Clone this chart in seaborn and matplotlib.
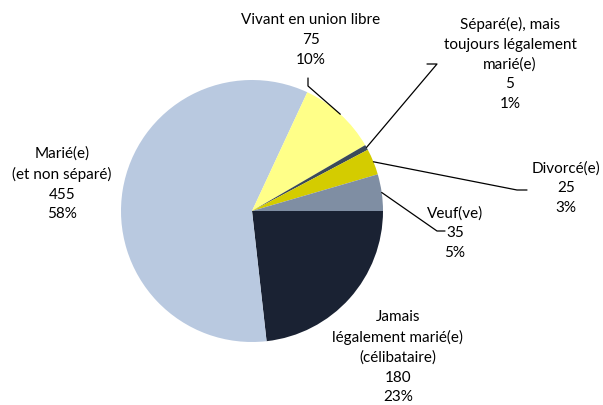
import numpy as np
import matplotlib
matplotlib.use("Agg")
import matplotlib.pyplot as plt
import seaborn as sns

categories = [
    "Jamais\nlégalement marié(e)\n(célibataire)",
    "Marié(e)\n(et non séparé)",
    "Vivant en union libre",
    "Séparé(e), mais\ntoujours légalement\nmarié(e)",
    "Divorcé(e)",
    "Veuf(ve)",
]
counts = [180, 455, 75, 5, 25, 35]
pct_labels = ["23%", "58%", "10%", "1%", "3%", "5%"]
colors = ["#1a2233", "#b9c9e0", "#ffff88", "#3b4a5a", "#d4cc00", "#7f8ea3"]

W, H = 603, 405
CX, CY, R = 252, 211, 131


def px(x, y):
    # picture pixels (y down) -> axes units (y up)
    return x, H - y


# label centre and leader elbow path (picture pixels); None = no leader
label_pos = [(398, 357), (62, 184), (311, 40), (510, 64), (566, 188), (455, 233)]
leaders = [
    None,
    None,
    [(308, 86), (308, 78)],
    [(437, 64), (427, 64)],
    [(517, 190), (527, 190)],
    [(437, 231), (445, 231)],
]

sns.set_style("white")
plt.rcParams["font.family"] = ["Lato", "DejaVu Sans"]

fig = plt.figure(figsize=(W / 100, H / 100), dpi=100)
ax = fig.add_axes([0, 0, 1, 1])

wedges, _ = ax.pie(
    counts,
    colors=colors,
    startangle=0,
    counterclock=False,
    radius=R,
    center=px(CX, CY),
    wedgeprops={"linewidth": 0},
    frame=True,
)
ax.set_xlim(0, W)
ax.set_ylim(0, H)
ax.axis("off")

for i, w in enumerate(wedges):
    text = f"{categories[i]}\n{counts[i]}\n{pct_labels[i]}"
    ax.text(*px(*label_pos[i]), text, ha="center", va="center",
            fontsize=11, color="#000000", linespacing=1.5)
    if leaders[i] is not None:
        mid = np.deg2rad((w.theta1 + w.theta2) / 2)
        ax0 = CX + R * np.cos(mid)
        ay0 = CY - R * np.sin(mid)
        pts = [(ax0, ay0)] + leaders[i]
        xs, ys = zip(*[px(x, y) for x, y in pts])
        ax.plot(xs, ys, color="#000000", lw=0.9)

fig.savefig("out.png", dpi=100)
